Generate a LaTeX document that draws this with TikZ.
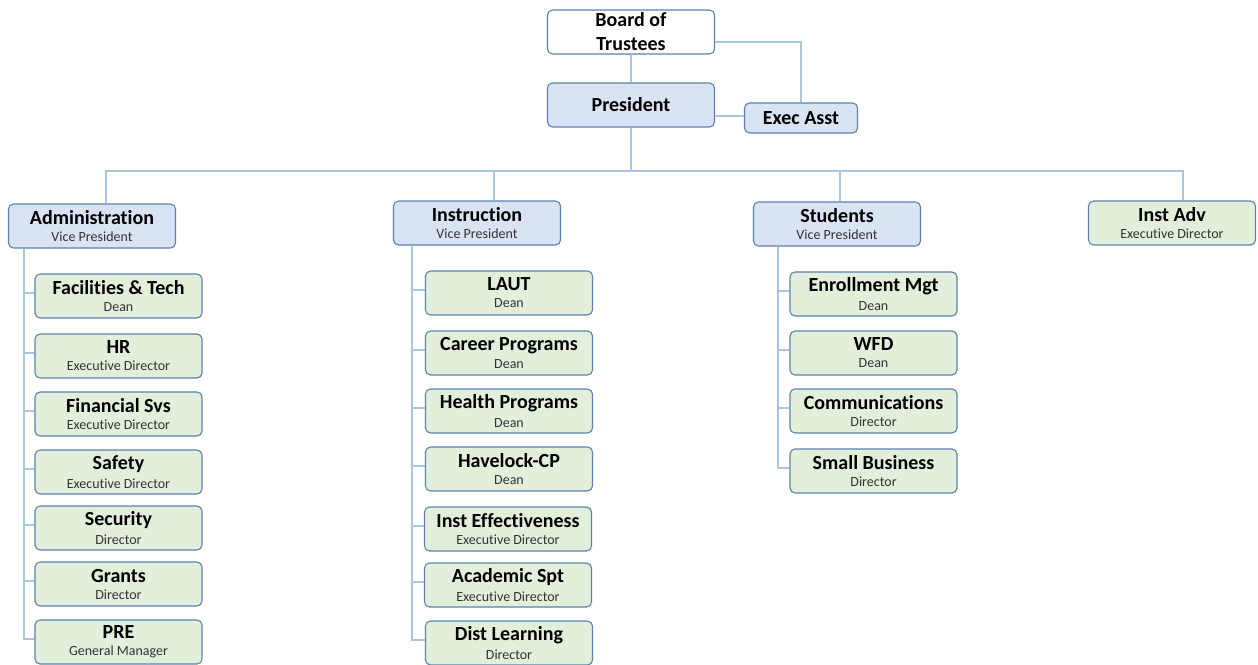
\documentclass[tikz,border=0pt]{standalone}
\usepackage{fontspec}
\setmainfont[Ligatures=CommonOff]{Carlito}
\definecolor{bluefill}{HTML}{DAE3F3}
\definecolor{greenfill}{HTML}{E2EFDA}
\definecolor{boxline}{HTML}{5B82AD}
\definecolor{connline}{HTML}{A9C5E3}
\newcommand{\tb}[2]{{\fontsize{20}{20}\selectfont\bfseries #1}\\[5pt]{\fontsize{14}{15}\selectfont\color{black!80} #2}}
\tikzset{
  orgbox/.style={draw=boxline, line width=1.1pt, rounded corners=5pt, minimum width=167pt, minimum height=44pt, inner sep=1pt, align=center},
  bluebox/.style={orgbox, fill=bluefill},
  greenbox/.style={orgbox, fill=greenfill},
  conn/.style={draw=connline, line width=1.1pt}
}
\begin{document}
\begin{tikzpicture}[x=1pt,y=-1pt]
\useasboundingbox (0,0) rectangle (1258,664);
% top
\node[orgbox, fill=white, font=\fontsize{20}{24}\selectfont\bfseries] (board) at (631,32) {Board of\\Trustees};
\node[bluebox, font=\fontsize{20}{20}\selectfont\bfseries] (pres) at (631,105) {President};
\node[bluebox, minimum width=113pt, minimum height=30pt, font=\fontsize{20}{20}\selectfont\bfseries] (exec) at (801,118) {Exec Asst};
% level 2
\node[bluebox] (admin) at (92,226) {\tb{Administration}{Vice President}};
\node[bluebox] (instr) at (477,223) {\tb{Instruction}{Vice President}};
\node[bluebox] (stud) at (837,224) {\tb{Students}{Vice President}};
\node[greenbox] (instadv) at (1172,223) {\tb{Inst Adv}{Executive Director}};
% admin children
\node[greenbox] (fac) at (118.5,296) {\tb{Facilities \& Tech}{Dean}};
\node[greenbox] (hr) at (118.5,356) {\tb{HR}{Executive Director}};
\node[greenbox] (fin) at (118.5,414) {\tb{Financial Svs}{Executive Director}};
\node[greenbox] (safe) at (118.5,472) {\tb{Safety}{Executive Director}};
\node[greenbox] (secu) at (118.5,528) {\tb{Security}{Director}};
\node[greenbox] (grant) at (118.5,584) {\tb{Grants}{Director}};
\node[greenbox] (pre) at (118.5,642) {\tb{PRE}{General Manager}};
% instruction children
\node[greenbox] (laut) at (509,293) {\tb{LAUT}{Dean}};
\node[greenbox] (career) at (509,353) {\tb{Career Programs}{Dean}};
\node[greenbox] (health) at (509,411) {\tb{Health Programs}{Dean}};
\node[greenbox] (havel) at (509,469) {\tb{Havelock-CP}{Dean}};
\node[greenbox] (effect) at (508,529) {\tb{Inst Effectiveness}{Executive Director}};
\node[greenbox] (acad) at (508,585) {\tb{Academic Spt}{Executive Director}};
\node[greenbox] (dist) at (509,643) {\tb{Dist Learning}{Director}};
% students children
\node[greenbox] (enrol) at (873.5,294) {\tb{Enrollment Mgt}{Dean}};
\node[greenbox] (wfd) at (873.5,353) {\tb{WFD}{Dean}};
\node[greenbox] (comm) at (873.5,411) {\tb{Communications}{Director}};
\node[greenbox] (small) at (873.5,471) {\tb{Small Business}{Director}};
% connectors top
\draw[conn] (board.south) -- (pres.north);
\draw[conn] (board.east |- 0,42) -| (exec.north);
\draw[conn] (pres.east |- 0,116) -- (exec.west |- 0,116);
\coordinate (bar) at (0,171);
\draw[conn] (pres.south) -- (pres.south |- bar);
\draw[conn] ([xshift=14pt]admin.north) -- ([xshift=14pt]admin.north |- bar) -- ([xshift=11pt]instadv.north |- bar) -- ([xshift=11pt]instadv.north);
\draw[conn] ([xshift=17pt]instr.north) -- ([xshift=17pt]instr.north |- bar);
\draw[conn] ([xshift=3pt]stud.north) -- ([xshift=3pt]stud.north |- bar);
% spines
\coordinate (as) at ([xshift=16pt]admin.south west);
\foreach \c in {fac,hr,fin,safe,secu,grant,pre} \draw[conn] (as) |- ([yshift=3pt]\c.west);
\coordinate (is) at ([xshift=19pt]instr.south west);
\foreach \c in {laut,career,health,havel,effect,acad,dist} \draw[conn] (is) |- ([yshift=3pt]\c.west);
\coordinate (ss) at ([xshift=25pt]stud.south west);
\foreach \c in {enrol,wfd,comm,small} \draw[conn] (ss) |- ([yshift=3pt]\c.west);
\end{tikzpicture}
\end{document}
